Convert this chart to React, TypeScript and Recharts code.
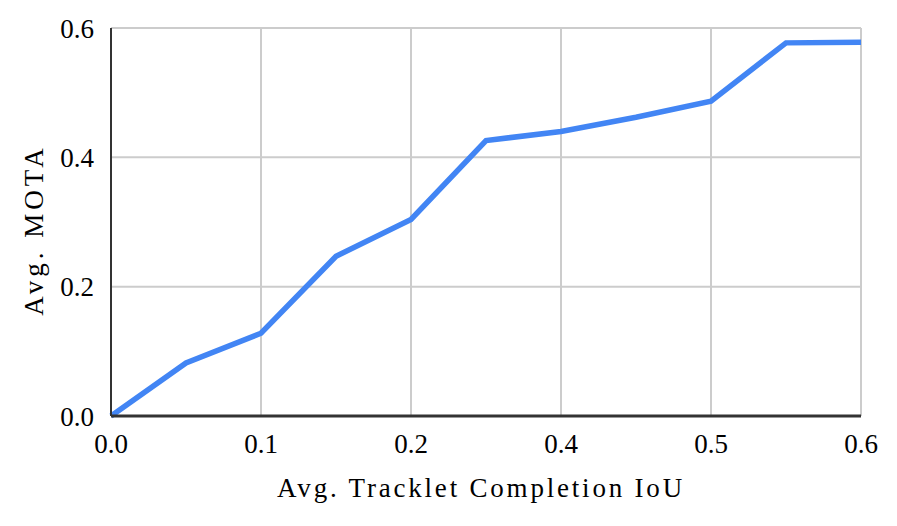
import React from 'react';
import { LineChart, Line, XAxis, YAxis, CartesianGrid, Label } from 'recharts';

const motaValues = [0.0, 0.082, 0.128, 0.247, 0.304, 0.426, 0.44, 0.462, 0.487, 0.577, 0.578];
const xTickLabels = ['0.0', '0.1', '0.2', '0.4', '0.5', '0.6'];
const xTickIndexes = [0, 2, 4, 6, 8, 10];
const yTicks = [0, 0.2, 0.4, 0.6];
const xTitle = 'Avg. Tracklet Completion IoU';
const yTitle = 'Avg. MOTA';

const data = motaValues.map((v, i) => ({ i, mota: v }));

const FONT = '"Liberation Serif", "Times New Roman", serif';
const textStyle = { fontFamily: FONT, fontSize: 27, fill: '#000' };

const XTitle = (props: any) => {
  const vb = props.viewBox || {};
  const cx = vb.x + vb.width / 2 - 5;
  const cy = vb.y + 81;
  return (
    <text x={cx} y={cy} textAnchor="middle" style={{ ...textStyle, letterSpacing: 2.8 }}>
      {xTitle}
    </text>
  );
};

const YTitle = (props: any) => {
  const vb = props.viewBox || {};
  const cx = vb.x + 43;
  const cy = vb.y + vb.height / 2 + 8;
  return (
    <text
      transform={`translate(${cx},${cy}) rotate(-90)`}
      x={0}
      y={0}
      textAnchor="middle"
      style={{ ...textStyle, letterSpacing: 4 }}
    >
      {yTitle}
    </text>
  );
};

export default function App() {
  return (
    <div style={{ position: 'absolute', left: 0, top: 0 }}>
      <LineChart
        width={897}
        height={526}
        data={data}
        margin={{ top: 28, right: 36, bottom: 0, left: 0 }}
      >
        <CartesianGrid stroke="#cccccc" strokeWidth={2} />
        <XAxis
          type="number"
          dataKey="i"
          domain={[0, 10]}
          ticks={xTickIndexes}
          tickFormatter={(v: number) => xTickLabels[xTickIndexes.indexOf(v)]}
          height={110}
          tickLine={false}
          tickSize={0}
          tickMargin={18}
          axisLine={{ stroke: '#333333', strokeWidth: 3 }}
          tick={textStyle}
          interval={0}
        >
          <Label content={<XTitle />} />
        </XAxis>
        <YAxis
          type="number"
          domain={[0, 0.6]}
          ticks={yTicks}
          tickFormatter={(v: number) => v.toFixed(1)}
          width={111}
          tickLine={false}
          tickSize={0}
          tickMargin={17}
          axisLine={{ stroke: '#333333', strokeWidth: 2 }}
          tick={textStyle}
          interval={0}
        >
          <Label content={<YTitle />} />
        </YAxis>
        <Line
          type="linear"
          dataKey="mota"
          stroke="#4285F4"
          strokeWidth={5.5}
          dot={false}
          isAnimationActive={false}
        />
      </LineChart>
    </div>
  );
}
